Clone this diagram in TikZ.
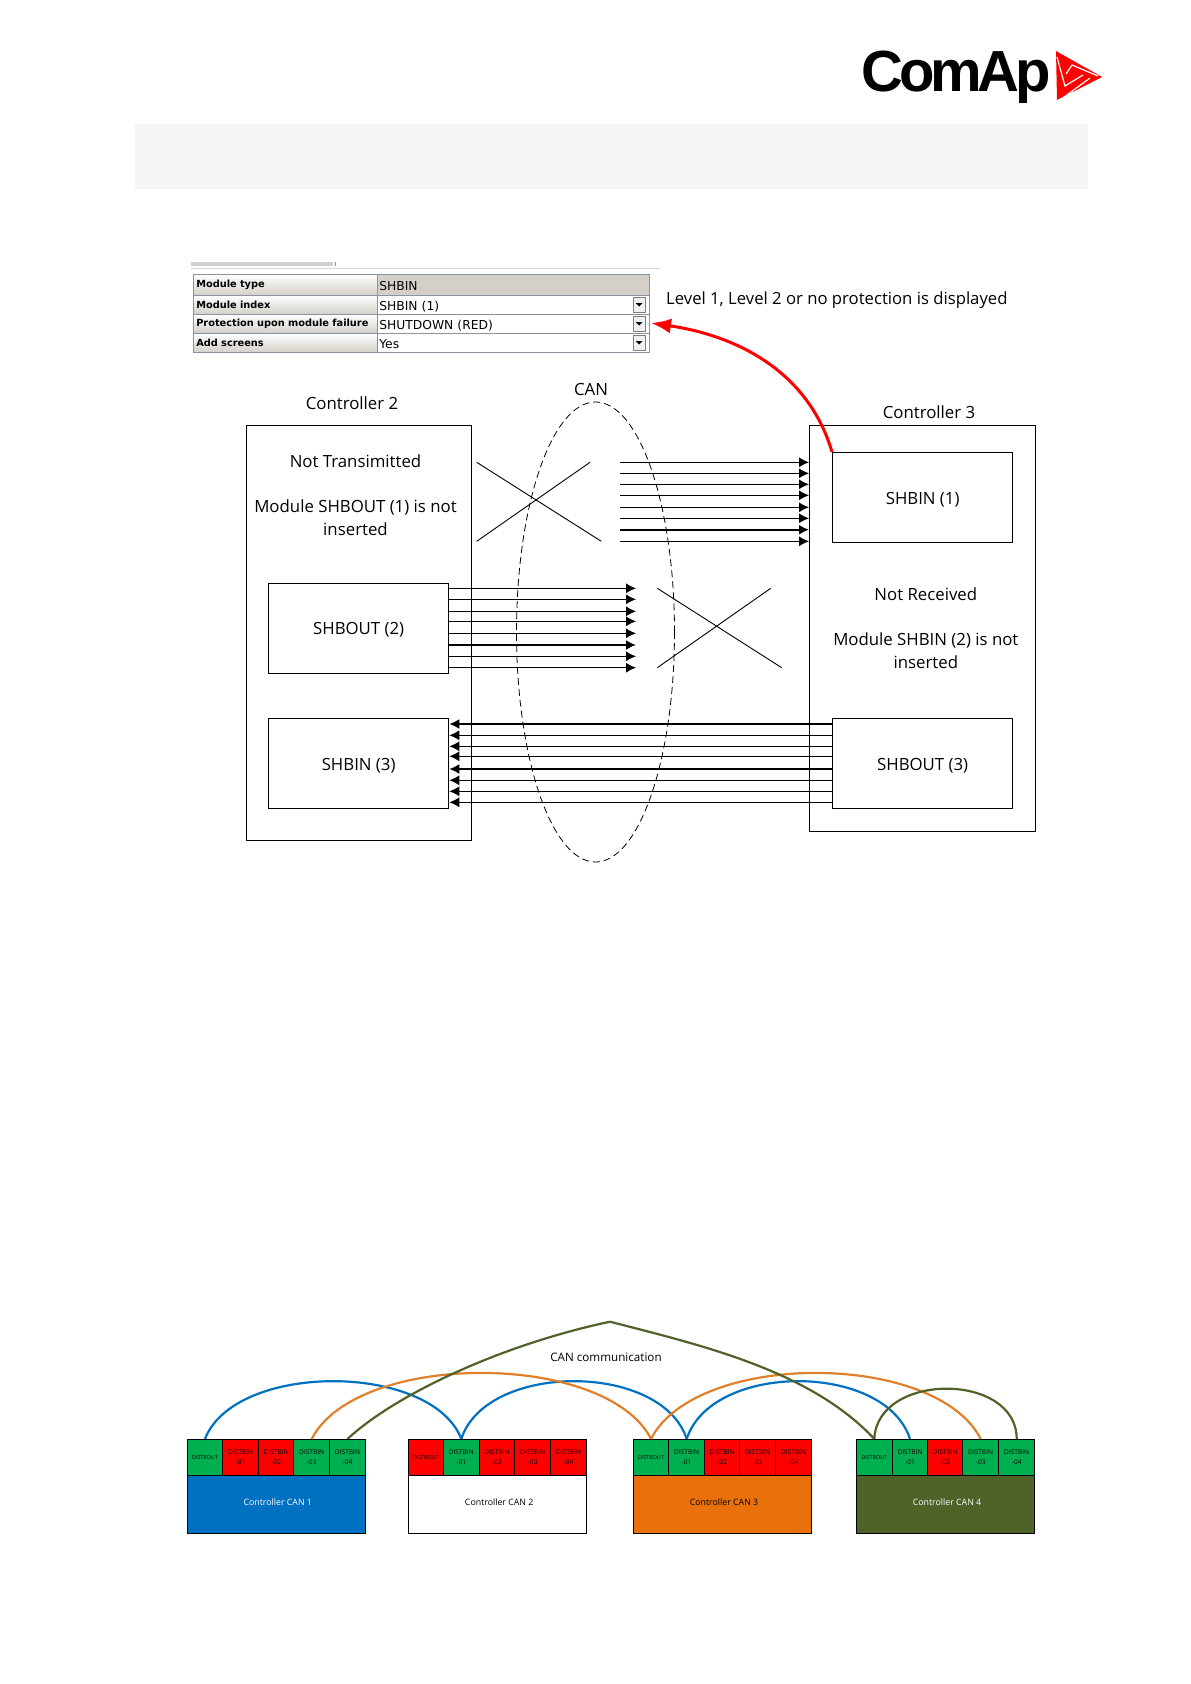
\documentclass[tikz,border=0pt]{standalone}
\usepackage{fontspec}
\setmainfont{Open Sans}
\newfontfamily\logofont{Liberation Sans}
\newfontfamily\uifont{DejaVu Sans}
\usetikzlibrary{arrows.meta}
\definecolor{cgreen}{HTML}{00B050}
\definecolor{cred}{HTML}{FF0000}
\definecolor{cblue}{HTML}{0070C0}
\definecolor{corange}{HTML}{E9710C}
\definecolor{colive}{HTML}{4F6228}
\definecolor{linkorange}{HTML}{E0802A}
\definecolor{tabframe}{HTML}{8E9CB0}
\definecolor{tabgrey}{HTML}{D4D0C8}
\newcommand{\tv}[1]{\hspace{1pt}#1}
\newcommand{\tn}[1]{\hspace{1pt}#1}
\tikzset{
  box/.style={draw=black,line width=1.3pt,inner sep=0pt,text height=13pt,text depth=0pt,font=\fontsize{16.8}{20}\selectfont},
  lab/.style={inner sep=0pt,align=center,font=\fontsize{16.8}{23}\selectfont},
  sig/.style={line width=1.0pt,-{Latex[length=10pt,width=10pt]}},
  sigbold/.style={line width=1.8pt,-{Latex[length=10pt,width=10pt]}},
  crossline/.style={line width=0.9pt},
  tabname/.style={draw=tabframe!70!gray,line width=.6pt,top color=white,bottom color=tabgrey,minimum width=184pt,inner sep=0pt,anchor=north west,text width=180pt,align=left,font=\uifont\bfseries\fontsize{9.8}{11}\selectfont},
  tabval/.style={draw=tabframe!70!gray,line width=.6pt,minimum width=272pt,inner sep=0pt,anchor=north west,text width=270pt,text height=12pt,text depth=0pt,align=left,font=\uifont\fontsize{12.3}{13}\selectfont},
  dropbtn/.style={draw=gray,fill=gray!12,line width=.5pt,minimum width=12.5pt,minimum height=14.5pt,inner sep=0pt},
  cell/.style={draw=black,line width=.8pt,inner sep=0pt,minimum height=36pt,align=center,font=\fontsize{6.6}{10}\selectfont},
  body/.style={draw=black,line width=.8pt,inner sep=0pt,minimum height=58pt,text height=6pt,text depth=3pt,font=\fontsize{8.8}{10}\selectfont},
  link/.style={line width=2.2pt},
}
\begin{document}
\begin{tikzpicture}[x=1pt,y=-1pt]
\useasboundingbox (0,0) rectangle (1191,1684);
% logo
\node[inner sep=0pt,anchor=base west,font=\logofont\bfseries\fontsize{58}{60}\selectfont] (logo) at (861,91) {\addfontfeature{LetterSpace=-7}ComAp};
\fill[cred] (1056,51) -- (1102,77) -- (1057,100) -- cycle;
\draw[white,line width=1.2pt] (1057,57) -- (1065,86) -- (1083,75);
\draw[white,line width=1.2pt] (1060,100) -- (1090,78);
\draw[white,line width=1.2pt] (1072,65) -- (1098,76);
\draw[white,line width=1.2pt] (1072,65) -- (1066,74);
% band
\fill[black!4] (134.5,124) rectangle (1088,189);
% table
\fill[black!18] (191,262) rectangle (333,266);
\draw[black!45,line width=.8pt] (335,262) -- (335,266);
\draw[black!15,line width=1pt] (191,268) -- (660,268);
\node[tabname,minimum height=21pt] (n1) at (193,274) {\tn{Module type}};
\node[tabname,minimum height=19pt] (n2) at (193,295) {\tn{Module index}};
\node[tabname,minimum height=19pt] (n3) at (193,314) {\tn{Protection upon module failure}};
\node[tabname,minimum height=19pt] (n4) at (193,333) {\tn{Add screens}};
\node[tabval,minimum height=21pt,fill=tabgrey] (v1) at (377,274) {\tv{SHBIN}};
\node[tabval,minimum height=19pt] (v2) at (377,295) {\tv{SHBIN (1)}};
\node[tabval,minimum height=19pt] (v3) at (377,314) {\tv{SHUTDOWN (RED)}};
\node[tabval,minimum height=19pt] (v4) at (377,333) {\tv{Yes}};
\foreach \k/\yy in {2/304.5,3/323.5,4/342.5}{
  \node[dropbtn] (d\k) at (639,\yy) {};
  \fill (635.5,\yy-1.5) -- (642.5,\yy-1.5) -- (639,\yy+2) -- cycle;
}
\node[lab,anchor=west,font=\fontsize{16.7}{20}\selectfont] (note) at (666,300) {Level 1, Level 2 or no protection is displayed};
% controllers
\node[box,minimum width=225.5pt,minimum height=415pt,anchor=north west] (ctrl2) at (245.5,425) {};
\node[box,minimum width=226pt,minimum height=406pt,anchor=north west] (ctrl3) at (809,425) {};
\node[box,minimum width=180pt,minimum height=90pt,anchor=north west] (shin1) at (832,452) {SHBIN (1)};
\node[box,minimum width=180pt,minimum height=90pt,anchor=north west] (shout2) at (268,582.5) {SHBOUT (2)};
\node[box,minimum width=180pt,minimum height=90pt,anchor=north west] (shin3) at (268,718) {SHBIN (3)};
\node[box,minimum width=180pt,minimum height=90pt,anchor=north west] (shout3) at (832,718) {SHBOUT (3)};
\node[lab] (t2) at (352,403.5) {Controller 2};
\node[lab] (t3) at (929,412) {Controller 3};
\node[lab] (tcan) at (591,389.5) {CAN};
\node[lab] (nt) at (355.5,461.5) {Not Transimitted};
\node[lab] (m1) at (355.5,517.5) {Module SHBOUT (1) is not\\inserted};
\node[lab] (nr) at (925.8,594.5) {Not Received};
\node[lab] (m2) at (925.8,651) {Module SHBIN (2) is not\\inserted};
% CAN ellipse
\draw[dashed,line width=.8pt,dash pattern=on 7pt off 4pt] (595.5,632) ellipse [x radius=79,y radius=230];
% top arrows
\foreach \i/\yy/\st in {1/462.3/sig,2/473.3/sig,3/484.3/sig,4/495.3/sig,5/507.3/sig,6/518.3/sig,7/529.7/sigbold,8/541.3/sig}{
  \coordinate (ta\i) at (620,\yy);
  \draw[\st] (ta\i) -- (ctrl3.west |- ta\i);
}
% middle arrows
\foreach \i/\yy/\st in {1/588.3/sig,2/599.3/sig,3/611.3/sig,4/621.3/sig,5/633.3/sig,6/645/sigbold,7/656.3/sig,8/667.7/sig}{
  \coordinate (ma\i) at (636,\yy);
  \draw[\st] (shout2.east |- ma\i) -- (ma\i);
}
% bottom arrows
\foreach \i/\yy/\st in {1/724/sigbold,2/735.3/sig,3/746.3/sig,4/756.3/sig,5/769/sigbold,6/780.3/sig,7/791.3/sig,8/802.3/sig}{
  \coordinate (ba\i) at (640,\yy);
  \draw[\st] (shout3.west |- ba\i) -- (shin3.east |- ba\i);
}
% crosses
\coordinate (xa1) at (476.7,462.3); \coordinate (xa2) at (601.3,541.3);
\coordinate (xa3) at (476.7,541.3); \coordinate (xa4) at (590,462.3);
\draw[crossline] (xa1) -- (xa2);
\draw[crossline] (xa3) -- (xa4);
\coordinate (xb1) at (657.3,588.3); \coordinate (xb2) at (781.7,667.7);
\coordinate (xb3) at (657.3,667.7); \coordinate (xb4) at (770.7,588.3);
\draw[crossline] (xb1) -- (xb2);
\draw[crossline] (xb3) -- (xb4);
% red arrow
\coordinate (redend) at (651,323);
\draw[cred,line width=3pt,-{Latex[length=20pt,width=15pt]}] (shin1.north west) .. controls (810,377) and (745,337) .. (redend);
% bottom diagram
\foreach \n/\a/\b/\c/\t in {
 c1a/187.3/222.7/cgreen/{\fontsize{5.3}{10}\selectfont DISTBOUT}, c1b/222.7/258.7/cred/{DISTBIN\\-01}, c1c/258.7/293.7/cred/{DISTBIN\\-02}, c1d/293.7/329.7/cgreen/{DISTBIN\\-03}, c1e/329.7/365.3/cgreen/{DISTBIN\\-04},
 c2a/408.7/443.3/cred/{\fontsize{5.3}{10}\selectfont DISTBOUT}, c2b/443.3/479.3/cgreen/{DISTBIN\\-01}, c2c/479.3/514.7/cred/{DISTBIN\\-02}, c2d/514.7/550.7/cred/{DISTBIN\\-03}, c2e/550.7/586.7/cred/{DISTBIN\\-04},
 c3a/633.3/668.7/cgreen/{\fontsize{5.3}{10}\selectfont DISTBOUT}, c3b/668.7/704.7/cgreen/{DISTBIN\\-01}, c3c/704.7/739.7/cred/{DISTBIN\\-02}, c3d/739.7/775.3/cred/{DISTBIN\\-03}, c3e/775.3/811.7/cred/{DISTBIN\\-04},
 c4a/856.3/892.3/cgreen/{\fontsize{5.3}{10}\selectfont DISTBOUT}, c4b/892.3/927.7/cgreen/{DISTBIN\\-01}, c4c/927.7/962.7/cred/{DISTBIN\\-02}, c4d/962.7/998.7/cgreen/{DISTBIN\\-03}, c4e/998.7/1034.7/cgreen/{DISTBIN\\-04}}{
  \node[cell,fill=\c,minimum width={\b-\a}] (\n) at ({(\a+\b)/2},1457.3) {\t};
}
\node[body,fill=cblue,text=white,minimum width=178pt] (b1) at (276.3,1504.3) {\hspace*{3pt}Controller CAN 1};
\node[body,fill=white,minimum width=178pt] (b2) at (497.7,1504.3) {\hspace*{3pt}Controller CAN 2};
\node[body,fill=corange,minimum width=178.4pt] (b3) at (722.5,1504.3) {\hspace*{3pt}Controller CAN 3};
\node[body,fill=colive,text=white,minimum width=178.4pt] (b4) at (945.5,1504.3) {\hspace*{3pt}Controller CAN 4};
\node[lab,font=\fontsize{11.65}{14}\selectfont] (cancom) at (606,1357) {CAN communication};
\coordinate (apex) at (610,1321.7);
\draw[link,cblue] (c1a.north) .. controls +(30,-77) and +(-30,-77) .. (c2b.north);
\draw[link,cblue] (c2b.north) .. controls +(25,-77) and +(-25,-77) .. (c3b.north);
\draw[link,cblue] (c3b.north) .. controls +(25,-77) and +(-25,-77) .. (c4b.north);
\draw[link,linkorange] (c1d.north) .. controls +(45,-88) and +(-45,-88) .. (c3a.north);
\draw[link,linkorange] (c3a.north) .. controls +(45,-88) and +(-45,-88) .. (c4d.north);
\draw[link,colive] (c1e.north) .. controls (395,1395) and (500,1345) .. (apex);
\draw[link,colive] (apex) .. controls (700,1345) and (810,1370) .. (c4a.north);
\draw[link,colive] (c4a.north) .. controls +(3,-67) and +(0,-67) .. (c4e.north);
\end{tikzpicture}
\end{document}
